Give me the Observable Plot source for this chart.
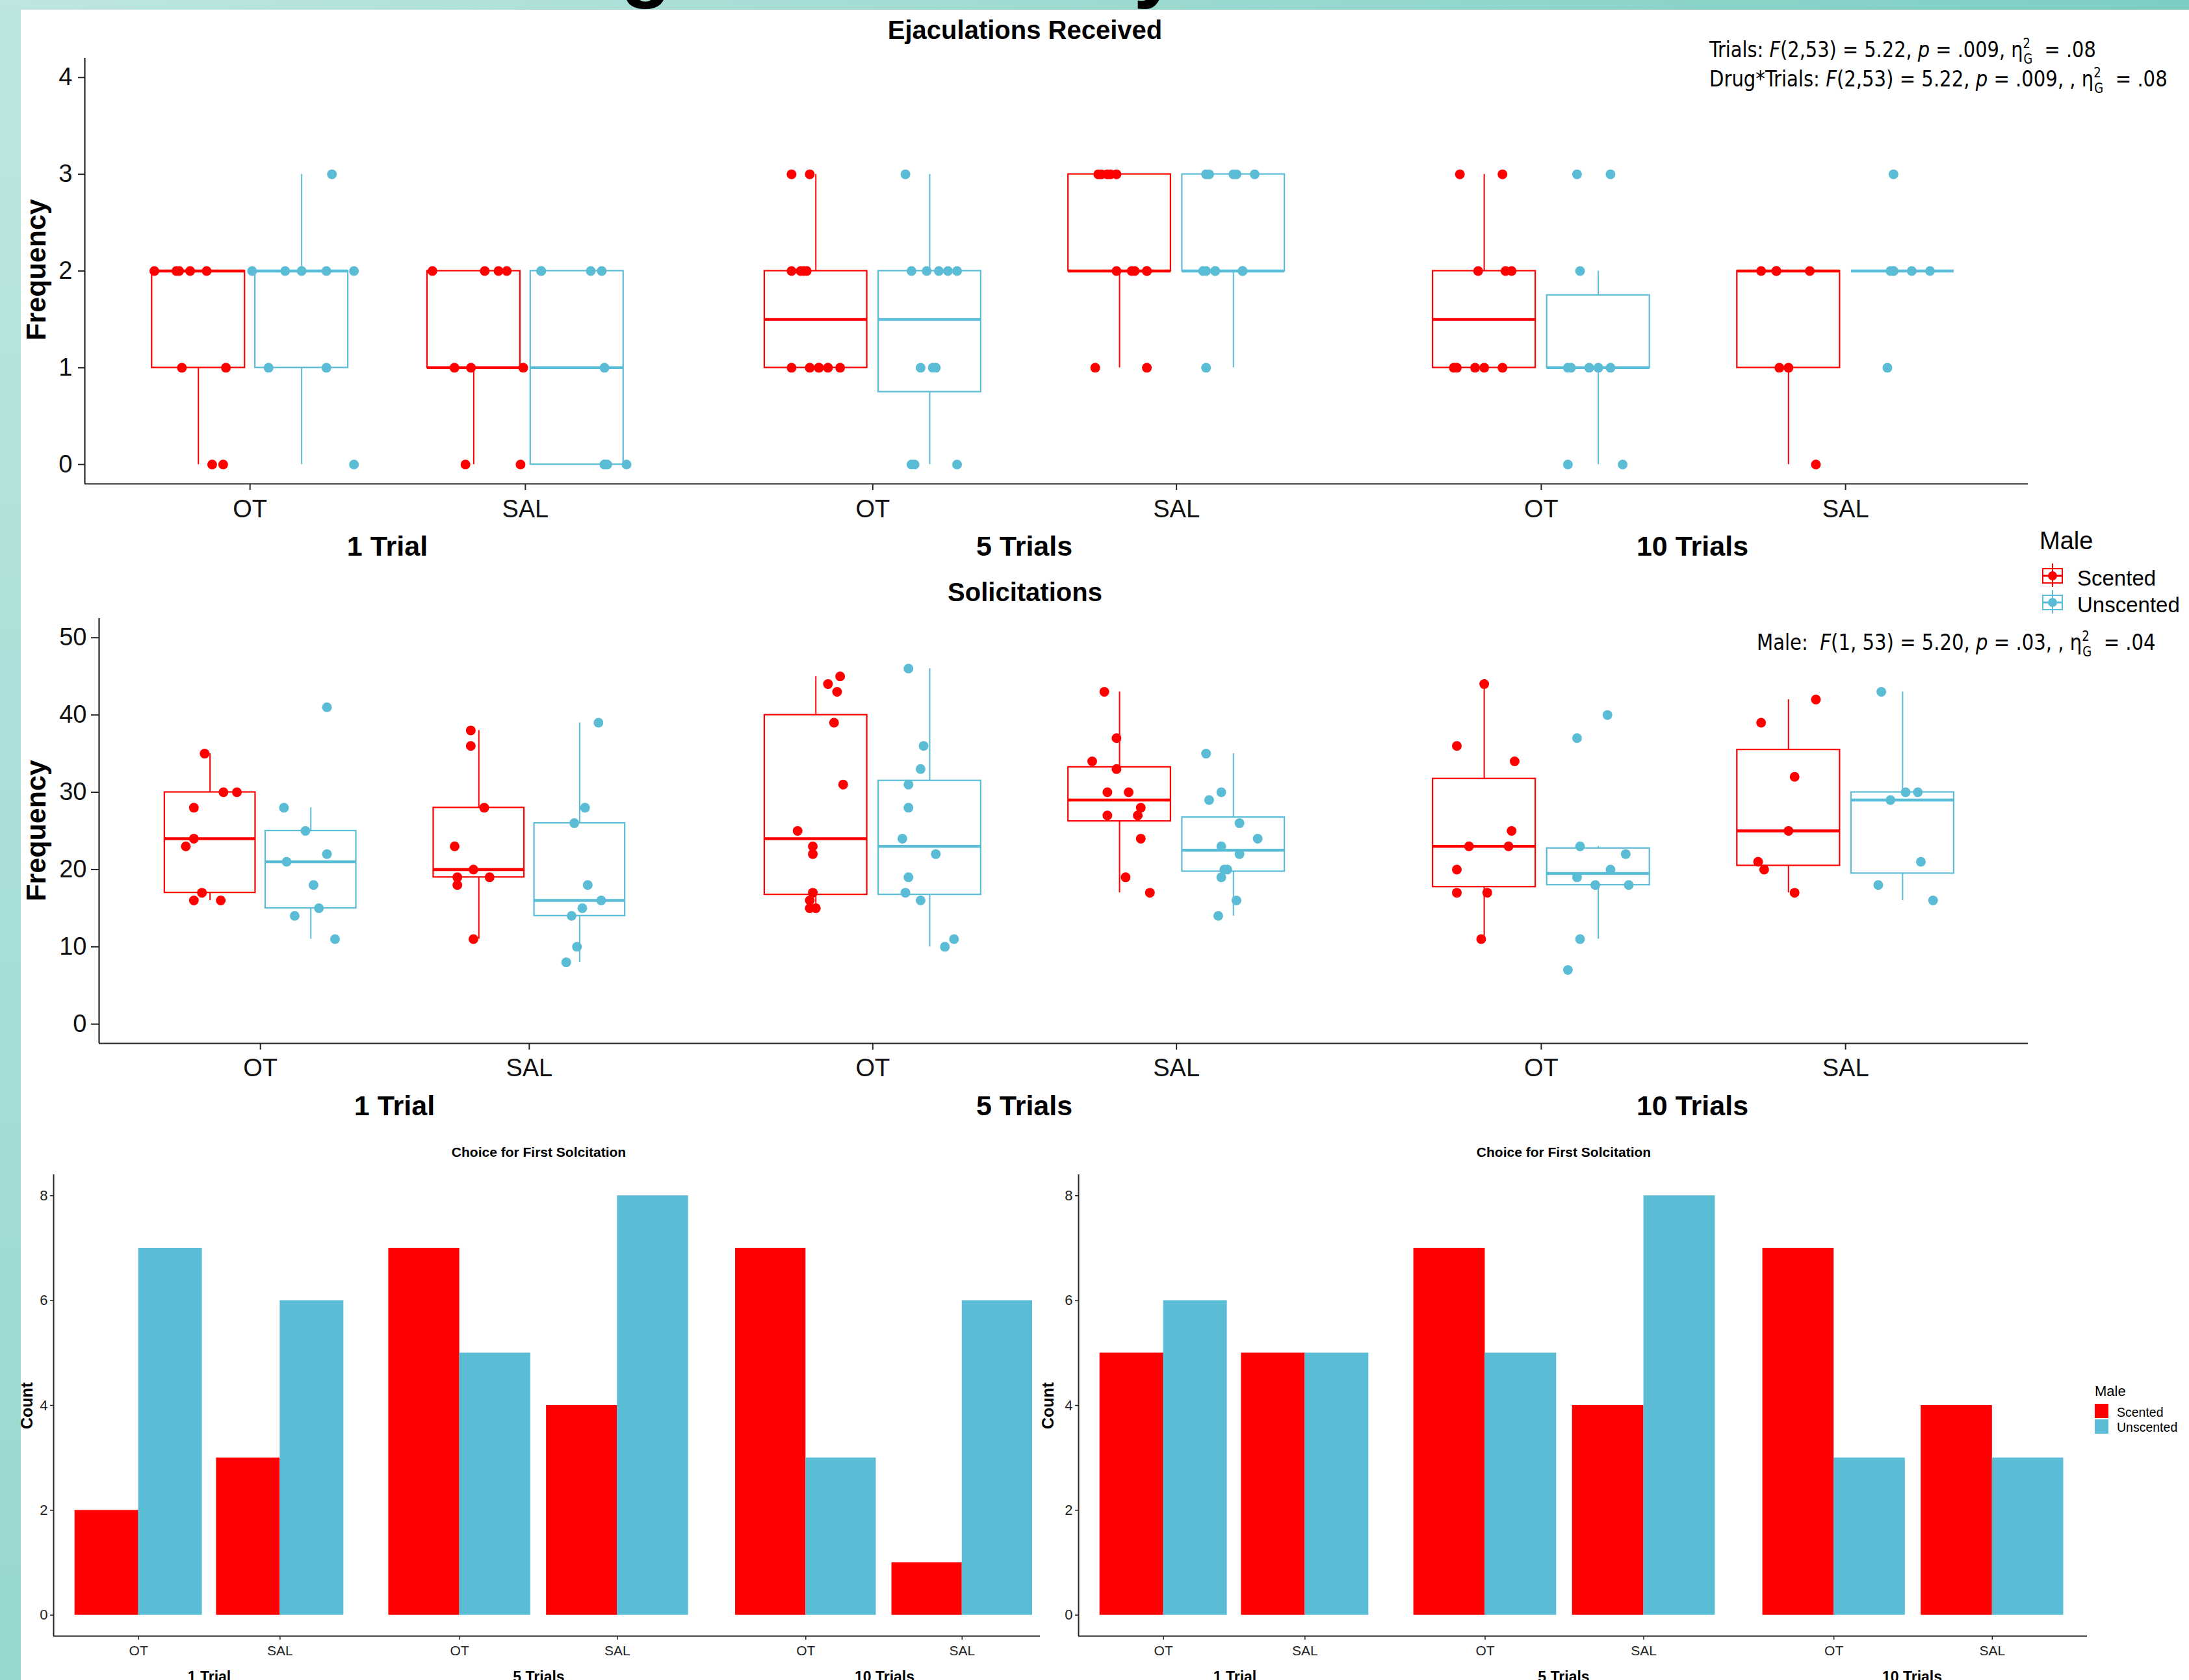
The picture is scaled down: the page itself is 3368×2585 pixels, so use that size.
<!DOCTYPE html>
<html><head><meta charset="utf-8">
<script src="https://cdn.jsdelivr.net/npm/d3@7"></script>
<script src="https://cdn.jsdelivr.net/npm/@observablehq/plot@0.6"></script>
<style>
html,body{margin:0;padding:0;}
body{width:3368px;height:2585px;position:relative;overflow:hidden;background:#fff;font-family:"Liberation Sans",Arial,sans-serif;}
#topband{position:absolute;left:0;top:0;width:3368px;height:15px;background:linear-gradient(to right,#bfe6e1,#7ccec3);}
#leftband{position:absolute;left:0;top:0;width:32px;height:2585px;background:linear-gradient(to bottom,#bde6e1,#a6ded7 60%,#98d8ce);}
.plot{position:absolute;}
#overlay{position:absolute;left:0;top:0;}
</style></head><body>
<div id="topband"></div><div id="leftband"></div>
<div id="charts"></div>
<svg id="overlay" width="3368" height="2585" xmlns="http://www.w3.org/2000/svg"></svg>
<script>
// ---------------- categories ----------------
const trials = ["1 Trial", "5 Trials", "10 Trials"];
const drugs = ["OT", "SAL"];
const males = ["Scented", "Unscented"];
const maleColors = ["#FF0000", "#5BBCD6"];
const ejacTicks = [0, 1, 2, 3, 4];
const solTicks = [0, 10, 20, 30, 40, 50];
const countTicks = [0, 2, 4, 6, 8];

// ---------------- Ejaculations received (per trial; groups: OT-Scented, OT-Unscented, SAL-Scented, SAL-Unscented) ----------------
const ejac1 = [[2,2,2,2,2,1,1,0,0],[2,2,2,2,2,1,1,3,0],[2,2,2,2,1,1,1,0,0],[2,2,2,2,1,0,0,0,0]];
const ejac1Jitter = [[-0.16,-0.08,-0.03,0.03,-0.07,-0.06,0.10,0.05,0.09],[-0.18,-0.06,0.00,0.09,0.19,-0.12,0.09,0.11,0.19],[-0.15,0.04,0.09,0.12,-0.07,-0.01,0.18,-0.03,0.17],[-0.13,-0.13,0.05,0.09,0.10,0.10,0.11,0.18,0.10]];
const ejac5 = [[3,3,2,2,2,2,1,1,1,1,1,1],[3,2,2,2,2,2,1,1,1,0,0,0],[3,3,3,3,3,2,2,2,2,2,1,1],[3,3,3,3,3,2,2,2,2,2,2,1]];
const ejac5Jitter = [[-0.08,-0.02,-0.08,-0.05,-0.03,-0.04,-0.08,-0.02,0.01,0.04,0.08,0.01],[-0.08,-0.06,-0.01,0.03,0.06,0.09,-0.03,0.01,0.02,-0.06,0.09,-0.05],[-0.07,-0.04,-0.01,-0.06,-0.03,-0.01,0.05,0.09,0.09,0.04,-0.08,0.09],[-0.09,0.00,0.07,-0.08,0.01,-0.10,-0.06,0.03,-0.09,-0.06,0.03,-0.09]];
const ejac10 = [[3,3,2,2,2,1,1,1,1,1],[3,3,2,1,1,1,1,1,0,0],[2,2,2,2,1,1,0],[3,2,2,2,2,2,1]];
const ejac10Jitter = [[-0.08,0.06,-0.02,0.07,0.09,-0.10,-0.09,-0.03,0.00,0.06],[-0.07,0.04,-0.06,-0.10,-0.09,-0.03,0.00,0.04,-0.10,0.08],[-0.09,-0.04,-0.04,0.07,-0.03,0.00,0.09],[-0.03,-0.04,-0.03,0.03,0.09,-0.03,-0.05]];

// ---------------- Solicitations ----------------
const sol1 = [[35,30,30,28,24,23,17,16,16],[41,28,25,22,21,18,15,14,11],[38,36,28,23,20,19,19,18,11],[39,28,26,18,16,15,14,10,8]];
const sol1Jitter = [[-0.02,0.05,0.10,-0.06,-0.06,-0.09,-0.03,-0.06,0.04],[0.06,-0.10,-0.02,0.06,-0.09,0.01,0.03,-0.06,0.09],[-0.03,-0.03,0.02,-0.09,-0.02,-0.08,0.04,-0.08,-0.02],[0.07,0.02,-0.02,0.03,0.08,0.01,-0.03,-0.01,-0.05]];
const sol5 = [[45,44,43,39,31,25,23,22,17,16,15,15],[46,36,33,31,28,24,22,19,17,16,11,10],[43,37,34,33,30,30,28,27,27,24,19,17],[35,30,29,26,24,23,22,20,20,19,16,14]];
const sol5Jitter = [[0.08,0.04,0.07,0.06,0.09,-0.06,-0.01,-0.01,-0.01,-0.02,-0.02,0.00],[-0.07,-0.02,-0.03,-0.07,-0.07,-0.09,0.02,-0.07,-0.08,-0.03,0.08,0.05],[-0.05,-0.01,-0.09,-0.01,-0.04,0.03,0.07,-0.04,0.06,0.07,0.02,0.10],[-0.09,-0.04,-0.08,0.02,0.08,-0.04,0.02,-0.03,-0.02,-0.04,0.01,-0.05]];
const sol10 = [[44,36,34,25,23,23,20,17,17,11],[40,37,23,22,20,19,18,18,11,7],[42,39,32,25,21,20,17],[43,30,30,29,21,18,16]];
const sol10Jitter = [[0.00,-0.09,0.10,0.09,-0.05,0.08,-0.09,-0.09,0.01,-0.01],[0.03,-0.07,-0.06,0.09,0.04,-0.07,-0.01,0.10,-0.06,-0.10],[0.09,-0.09,0.02,0.00,-0.10,-0.08,0.02],[-0.07,0.01,0.05,-0.04,0.06,-0.08,0.10]];

// ---------------- Choice for first solicitation (order: 1T OT, 1T SAL, 5T OT, 5T SAL, 10T OT, 10T SAL) ----------------
const choiceLeftScented = [2, 3, 7, 4, 7, 1];
const choiceLeftUnscented = [7, 6, 5, 8, 3, 6];
const choiceRightScented = [5, 5, 7, 4, 7, 4];
const choiceRightUnscented = [6, 5, 5, 8, 3, 3];

// ---------------- helpers ----------------
const FONT = "'Liberation Sans', Arial, Helvetica, sans-serif";
const AXIS = "#262626";
const intFmt = d => String(d);
const color = {domain: males, range: maleColors};
const charts = document.getElementById("charts");
function mount(el, left, top) {
  const w = document.createElement("div");
  w.className = "plot"; w.style.left = left + "px"; w.style.top = top + "px";
  w.appendChild(el); charts.appendChild(w);
}
function boxStats(vals) {
  const s = vals.slice().sort(d3.ascending);
  const q1 = d3.quantile(s, 0.25), med = d3.quantile(s, 0.5), q3 = d3.quantile(s, 0.75);
  const iqr = q3 - q1;
  const lo = d3.min(s.filter(v => v >= q1 - 1.5 * iqr));
  const hi = d3.max(s.filter(v => v <= q3 + 1.5 * iqr));
  return {q1, med, q3, lo, hi};
}
const dodge = 0.1875, halfBox = 0.16875, halfBar = 0.45;
const facetLefts = [0, 1062, 2090], facetWidths = [1062, 1028, 1030];

const boxRows = [
  {groups: [ejac1, ejac5, ejac10], jit: [ejac1Jitter, ejac5Jitter, ejac10Jitter], top: 0, height: 870, mt: 89, mb: 126,
   yDomain: [-0.2, 4.2], ticks: ejacTicks, ml: 130, ySize: 10, yPad: 9, xPad: 15, r: 7.5},
  {groups: [sol1, sol5, sol10], jit: [sol1Jitter, sol5Jitter, sol10Jitter], top: 900, height: 840, mt: 51, mb: 135,
   yDomain: [-2.5, 52.5], ticks: solTicks, ml: 152, ySize: 12, yPad: 7, xPad: 14, r: 7.5}
];

boxRows.forEach(row => {
  trials.forEach((trial, t) => {
    const pts = [], st = [];
    row.groups[t].forEach((vals, g) => {
      const d = g >> 1, m = g & 1;
      const cx = d + (m ? dodge : -dodge);
      vals.forEach((v, i) => pts.push({male: males[m], x: cx + row.jit[t][g][i], value: v}));
      st.push({male: males[m], cx, ...boxStats(vals)});
    });
    const xDomain = [-0.6, 1.6];
    const marks = [
      Plot.ruleX(st, {x: "cx", y1: "q3", y2: "hi", stroke: "male", strokeWidth: 2}),
      Plot.ruleX(st, {x: "cx", y1: "lo", y2: "q1", stroke: "male", strokeWidth: 2}),
      Plot.rect(st, {x1: d => d.cx - halfBox, x2: d => d.cx + halfBox, y1: "q1", y2: "q3", fill: "white", stroke: "male", strokeWidth: 2.2}),
      Plot.ruleY(st, {y: "med", x1: d => d.cx - halfBox, x2: d => d.cx + halfBox, stroke: "male", strokeWidth: 4.5}),
      Plot.dot(pts, {x: "x", y: "value", fill: "male", r: row.r}),
      Plot.ruleY([row.yDomain[0]], {stroke: AXIS, strokeWidth: 2.2}),
      Plot.axisX({ticks: [0, 1], tickFormat: i => drugs[i], tickSize: 10, tickPadding: row.xPad, fontSize: 38, fontFamily: FONT, label: null, strokeWidth: 2, stroke: AXIS, fill: "#111"})
    ];
    if (t === 0) {
      marks.push(Plot.ruleX([xDomain[0]], {stroke: AXIS, strokeWidth: 2.2}));
      marks.push(Plot.axisY({ticks: row.ticks, tickFormat: intFmt, tickSize: row.ySize, tickPadding: row.yPad, fontSize: 38, fontFamily: FONT, label: null, strokeWidth: 2, stroke: AXIS, fill: "#111"}));
    }
    const p = Plot.plot({
      width: facetWidths[t], height: row.height,
      marginLeft: t === 0 ? row.ml : 0, marginRight: 0, marginTop: row.mt, marginBottom: row.mb,
      x: {domain: xDomain, axis: null},
      y: {domain: row.yDomain, axis: null},
      color,
      style: {background: "transparent", overflow: "visible", maxWidth: "none", fontFamily: FONT},
      marks
    });
    mount(p, facetLefts[t], row.top);
  });
});

// ---------------- bar charts ----------------
const barCharts = [
  {sc: choiceLeftScented, un: choiceLeftUnscented, lefts: [0, 561, 1095], widths: [561, 534, 505], ml: 82, domains: [[-0.6, 1.6], [-0.6, 1.6], [-0.6, 1.5]]},
  {sc: choiceRightScented, un: choiceRightUnscented, lefts: [1600, 2138, 2675], widths: [538, 537, 536], ml: 59, domains: [[-0.6, 1.6], [-0.6, 1.6], [-0.6, 1.6]]}
];
barCharts.forEach(ch => {
  trials.forEach((trial, t) => {
    const rows = [];
    drugs.forEach((drug, d) => {
      rows.push({male: males[0], x1: d - halfBar, x2: d, count: ch.sc[t * 2 + d]});
      rows.push({male: males[1], x1: d, x2: d + halfBar, count: ch.un[t * 2 + d]});
    });
    const yDomain = [-0.4, 8.4];
    const marks = [
      Plot.rectY(rows, {x1: "x1", x2: "x2", y: "count", fill: "male"}),
      Plot.ruleY([yDomain[0]], {stroke: AXIS, strokeWidth: 2}),
      Plot.axisX({ticks: [0, 1], tickFormat: i => drugs[i], tickSize: 6, tickPadding: 9, fontSize: 21, fontFamily: FONT, label: null, strokeWidth: 1.5, stroke: AXIS, fill: "#222"})
    ];
    if (t === 0) {
      marks.push(Plot.ruleX([ch.domains[0][0]], {stroke: AXIS, strokeWidth: 2}));
      marks.push(Plot.axisY({ticks: countTicks, tickFormat: intFmt, tickSize: 5, tickPadding: 4, fontSize: 22, fontFamily: FONT, label: null, strokeWidth: 1.5, stroke: AXIS, fill: "#222"}));
    }
    const p = Plot.plot({
      width: ch.widths[t], height: 805,
      marginLeft: t === 0 ? ch.ml : 0, marginRight: 0, marginTop: 27, marginBottom: 68,
      x: {domain: ch.domains[t], axis: null},
      y: {domain: yDomain, axis: null},
      color,
      style: {background: "transparent", overflow: "visible", maxWidth: "none", fontFamily: FONT},
      marks
    });
    mount(p, ch.lefts[t], 1780);
  });
});

// ---------------- text overlay ----------------
const ov = d3.select("#overlay");
function txt(o) {
  const t = ov.append("text")
    .attr("font-size", o.size).attr("font-weight", o.weight || "normal")
    .attr("text-anchor", o.anchor || "start").attr("font-family", o.family || FONT)
    .attr("fill", o.fill || "#000").style("white-space", "pre");
  if (o.segs) o.segs.forEach(sg => {
    const ts = t.append("tspan").text(sg[0]);
    if (sg[1]) Object.entries(sg[1]).forEach(([k, v]) => ts.attr(k, v));
  });
  else t.text(o.s);
  let sx = 1;
  if (o.fit) { const w = t.node().getBBox().width; if (w > 0) sx = o.fit / w; }
  t.attr("transform", `translate(${o.x},${o.y}) rotate(${o.rotate || 0}) scale(${sx},1)`);
  return t;
}
// poster title descenders peeking into the top band
txt({x: 955, y: -13, s: "g", size: 128, weight: "bold"});
txt({x: 1744, y: -13, s: "y", size: 128, weight: "bold"});

// titles
txt({x: 1577, y: 60, s: "Ejaculations Received", size: 40, weight: "bold", anchor: "middle"});
txt({x: 1577, y: 925, s: "Solicitations", size: 40, weight: "bold", anchor: "middle"});
txt({x: 70, y: 415, s: "Frequency", size: 43, weight: "bold", anchor: "middle", rotate: -90});
txt({x: 70, y: 1278, s: "Frequency", size: 43, weight: "bold", anchor: "middle", rotate: -90});
[596, 1576, 2604].forEach((x, i) => txt({x, y: 855, s: trials[i], size: 43, weight: "bold", anchor: "middle"}));
[607, 1576, 2604].forEach((x, i) => txt({x, y: 1716, s: trials[i], size: 43, weight: "bold", anchor: "middle"}));

// statistics annotations
const AF = "'Liberation Sans Narrow', 'DejaVu Sans Condensed', 'Liberation Sans', Arial, sans-serif";
const it = {"font-style": "italic"};
const sup = {"font-size": 21, dy: -14};
const sub = {"font-size": 21, dx: -11, dy: 24};
const back = {dy: -10};
txt({x: 2630, y: 88, size: 34, family: AF, fit: 596, segs: [["Trials: "], ["F", it], ["(2,53) = 5.22, "], ["p", it], [" = .009, η"], ["2", sup], ["G", sub], ["  = .08", back]]});
txt({x: 2630, y: 133, size: 34, family: AF, fit: 705, segs: [["Drug*Trials: "], ["F", it], ["(2,53) = 5.22, "], ["p", it], [" = .009, , η"], ["2", sup], ["G", sub], ["  = .08", back]]});
txt({x: 2703, y: 1000, size: 34, family: AF, fit: 614, segs: [["Male:  "], ["F", it], ["(1, 53) = 5.20, "], ["p", it], [" = .03, , η"], ["2", sup], ["G", sub], ["  = .04", back]]});

// box-plot legend
txt({x: 3138, y: 845, s: "Male", size: 38});
males.forEach((m, i) => {
  const cy = 886 + i * 41;
  ov.append("rect").attr("x", 3143).attr("y", cy - 11).attr("width", 30).attr("height", 22).attr("fill", "white").attr("stroke", maleColors[i]).attr("stroke-width", 2);
  ov.append("line").attr("x1", 3158).attr("x2", 3158).attr("y1", cy - 19).attr("y2", cy + 17).attr("stroke", maleColors[i]).attr("stroke-width", 2);
  ov.append("line").attr("x1", 3143).attr("x2", 3173).attr("y1", cy).attr("y2", cy).attr("stroke", maleColors[i]).attr("stroke-width", 3);
  ov.append("circle").attr("cx", 3158).attr("cy", cy).attr("r", 7).attr("fill", maleColors[i]);
  txt({x: 3196, y: cy + 15, s: m, size: 33});
});

// bar charts text
[829, 2406].forEach(x => txt({x, y: 1780, s: "Choice for First Solcitation", size: 21, weight: "bold", anchor: "middle"}));
[50, 1621].forEach(x => txt({x, y: 2163, s: "Count", size: 25, weight: "bold", anchor: "middle", rotate: -90}));
[[322, 829, 1361], [1900, 2406, 2942]].forEach(xs => xs.forEach((x, i) => txt({x, y: 2588, s: trials[i], size: 23, weight: "bold", anchor: "middle"})));

// bar legend
txt({x: 3223, y: 2148, s: "Male", size: 22});
males.forEach((m, i) => {
  ov.append("rect").attr("x", 3223).attr("y", 2160 + i * 24).attr("width", 21).attr("height", 22).attr("fill", maleColors[i]);
  txt({x: 3257, y: 2180 + i * 23, s: m, size: 19.5});
});
</script>
</body></html>
